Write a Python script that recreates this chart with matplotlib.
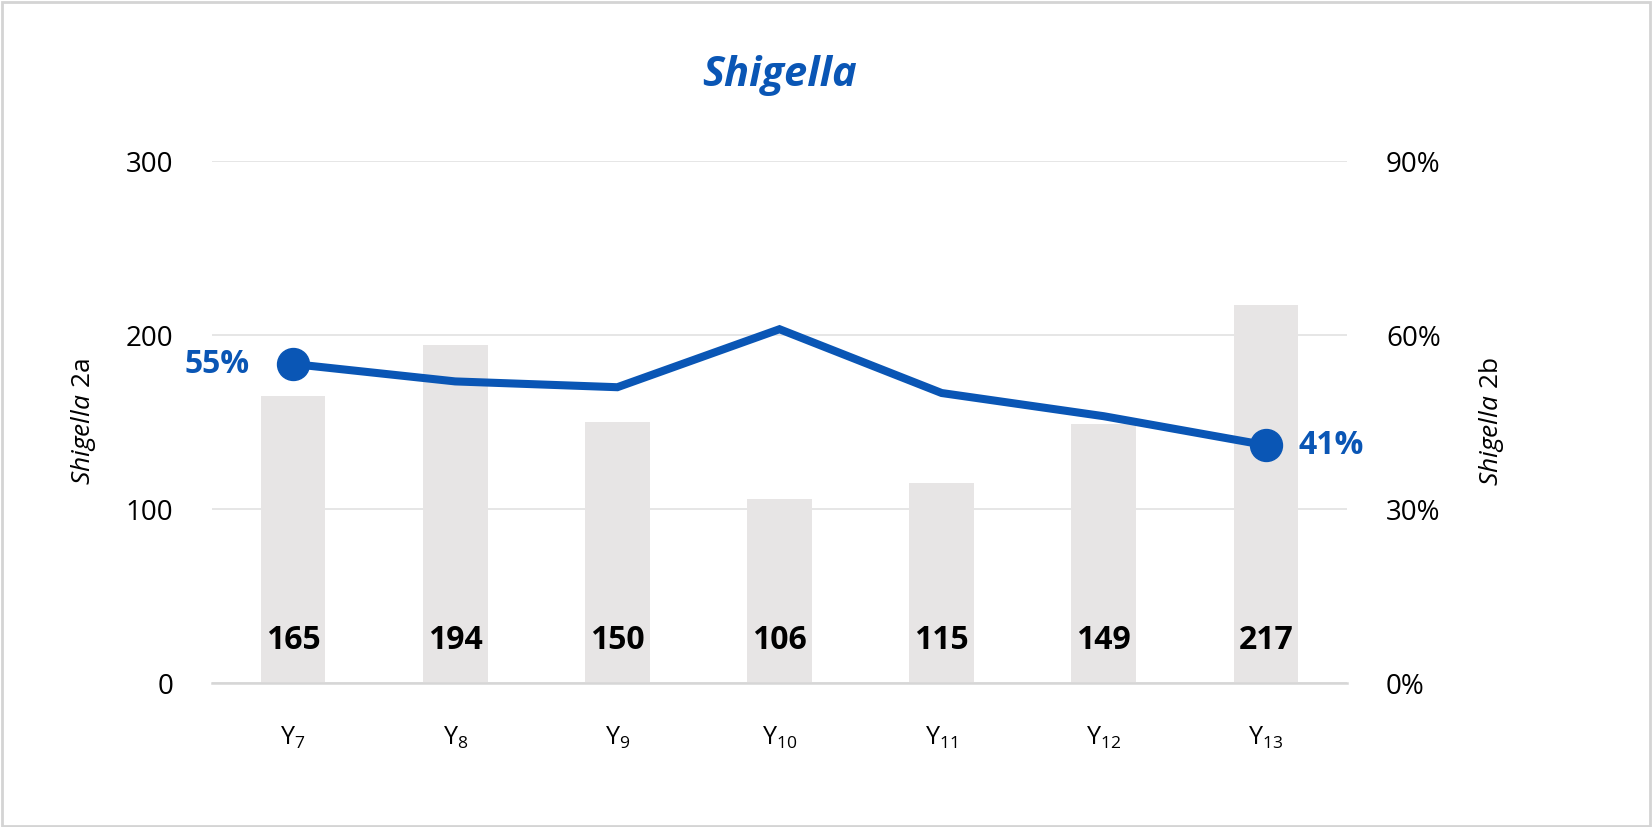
import matplotlib
matplotlib.use('Agg')
import matplotlib.pyplot as plt
from matplotlib.patches import Rectangle
from matplotlib.ticker import FixedLocator

plt.rcParams['font.family'] = ['Open Sans', 'DejaVu Sans']
plt.rcParams['mathtext.fontset'] = 'custom'
plt.rcParams['mathtext.rm'] = 'Open Sans'
plt.rcParams['mathtext.it'] = 'Open Sans:italic'
plt.rcParams['mathtext.default'] = 'regular'

# data
years = ['7', '8', '9', '10', '11', '12', '13']
counts_2a = [165, 194, 150, 106, 115, 149, 217]
share_2b = [55, 52, 51, 61, 50, 46, 41]
left_ticks = [0, 100, 200, 300]
right_ticks = [0, 30, 60, 90]

BLUE = '#0A56B5'
BAR = '#E7E5E5'
GRID = '#E2E2E2'

fig = plt.figure(figsize=(16.52, 8.27), dpi=100)
ax = fig.add_axes([0.1283, 0.1741, 0.8154 - 0.1283, 0.8053 - 0.1741])
ax2 = ax.twinx()

x = list(range(len(years)))
ax.bar(x, counts_2a, width=0.4, color=BAR, zorder=2)
for i, v in enumerate(counts_2a):
    ax.text(i, 15, str(v), ha='center', va='bottom', fontsize=23,
            fontweight='bold', color='black', zorder=3)

ax.set_xlim(-0.5, len(years) - 0.5)
ax.set_ylim(0, 300)
ax.yaxis.set_major_locator(FixedLocator(left_ticks))
ax.set_xticks(x)
ax.set_xticklabels(['Y$_{%s}$' % y for y in years], fontsize=18)
ax.tick_params(axis='x', length=0, pad=30)
ax.tick_params(axis='y', length=0, pad=28, labelsize=20)
ax.grid(axis='y', color=GRID, lw=1.2, zorder=0)
ax.set_axisbelow(True)
for s in ['top', 'left', 'right']:
    ax.spines[s].set_visible(False)
ax.spines['bottom'].set_color('#D6D6D6')
ax.spines['bottom'].set_linewidth(1.8)
ax.set_ylabel(r'$\it{Shigella}$ 2a', fontsize=19, labelpad=20)

ax2.plot(x, share_2b, color=BLUE, lw=5.8, zorder=4, solid_joinstyle='miter')
ax2.plot([x[0], x[-1]], [share_2b[0], share_2b[-1]], 'o', color=BLUE,
         markersize=23, zorder=5)
ax2.text(x[0] - 0.27, share_2b[0], f'{share_2b[0]}%', ha='right', va='center',
         fontsize=23, fontweight='bold', color=BLUE)
ax2.text(x[-1] + 0.2, share_2b[-1], f'{share_2b[-1]}%', ha='left', va='center',
         fontsize=23, fontweight='bold', color=BLUE)
ax2.set_ylim(0, 90)
ax2.yaxis.set_major_locator(FixedLocator(right_ticks))
ax2.set_yticklabels([f'{t}%' for t in right_ticks])
ax2.tick_params(axis='y', length=0, pad=28, labelsize=20)
for s in ax2.spines.values():
    s.set_visible(False)
ax2.set_ylabel(r'$\it{Shigella}$ 2b', fontsize=19, labelpad=26)

fig.text(0.4718, 0.909, 'Shigella', ha='center', va='center', fontsize=30,
         fontweight='bold', fontstyle='italic', color=BLUE)

fig.patches.append(Rectangle((0.001, 0.001), 0.998, 0.997, transform=fig.transFigure,
                             fill=False, edgecolor='#D4D4D4', lw=2))

fig.savefig('out.png', dpi=100)
